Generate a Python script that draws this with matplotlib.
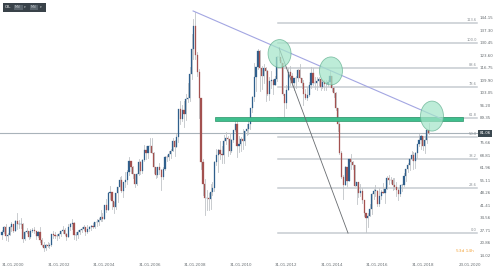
#!/usr/bin/env python3
# -*- coding: utf-8 -*-
"""Brent (OIL) monthly candles 2000-2018 with fib levels and trendline"""

import matplotlib
matplotlib.use('Agg')
import matplotlib.pyplot as plt
from matplotlib.patches import Ellipse, Rectangle
import numpy as np

# monthly closes / highs / lows, Jan 2000 .. Oct 2018
first_open = 25.5
closes = [
    27.1, 29.6, 24.9, 25.7, 29.6, 31.7, 27.9, 33.1, 31.3, 31.5, 31.6, 23.0,
    27.1, 27.4, 24.6, 27.8, 28.0, 27.6, 25.0, 27.0, 22.9, 20.1, 18.1, 20.0,
    19.5, 20.1, 25.9, 25.5, 25.1, 24.8, 25.8, 27.4, 28.3, 26.1, 24.5, 29.9,
    31.6, 32.1, 25.3, 25.5, 27.3, 28.4, 28.7, 29.6, 27.0, 29.0, 30.0, 30.2,
    30.0, 32.4, 32.5, 33.6, 35.1, 34.2, 42.0, 39.0, 48.4, 49.0, 43.9, 40.5,
    48.2, 51.5, 55.4, 49.7, 54.3, 55.6, 59.9, 66.2, 62.6, 59.0, 53.6, 58.9,
    65.4, 60.2, 66.6, 72.0, 70.2, 73.9, 74.4, 70.3, 62.5, 58.3, 62.8, 61.0,
    57.3, 61.6, 68.1, 67.9, 69.6, 71.4, 77.1, 73.6, 79.2, 94.2, 88.7, 93.9,
    91.8, 100.1, 100.3, 113.5, 127.4, 139.8, 123.9, 114.8, 100.6, 65.3, 53.5, 45.6,
    45.9, 44.9, 49.2, 50.9, 65.6, 69.3, 71.7, 69.8, 69.1, 77.0, 78.5, 77.9,
    71.2, 77.6, 82.7, 86.2, 74.0, 75.0, 78.0, 76.7, 82.3, 83.2, 85.9, 94.8,
    101.0, 111.8, 117.4, 125.9, 116.7, 112.5, 116.7, 114.9, 102.8, 109.6, 110.5, 107.4,
    110.9, 122.7, 122.9, 119.5, 102.4, 97.8, 105.0, 114.6, 112.4, 108.7, 111.2, 111.1,
    115.6, 111.4, 108.5, 102.4, 100.4, 102.2, 107.7, 114.0, 108.4, 108.8, 109.7, 110.8,
    106.4, 109.1, 107.8, 108.1, 109.4, 112.4, 106.0, 103.2, 94.7, 85.9, 70.2, 57.3,
    53.0, 62.6, 55.1, 66.8, 65.6, 63.6, 52.2, 54.2, 48.4, 49.6, 44.6, 37.3,
    34.7, 36.0, 39.6, 48.1, 49.7, 49.7, 42.5, 47.0, 49.1, 48.3, 50.5, 56.8,
    55.7, 55.6, 52.8, 51.7, 50.3, 47.9, 52.6, 52.9, 57.5, 61.4, 63.6, 66.9,
    69.1, 65.8, 70.3, 75.2, 77.6, 79.4, 74.3, 77.4, 82.7, 81.06,
]
highs = [
    28.0, 30.6, 31.5, 26.6, 30.4, 32.3, 31.2, 33.4, 37.4, 33.9, 34.5, 31.8,
    27.8, 29.5, 27.9, 28.6, 29.5, 29.9, 27.1, 27.8, 29.6, 23.7, 21.5, 20.4,
    21.5, 20.9, 26.0, 27.6, 27.1, 25.8, 26.5, 27.6, 30.3, 29.3, 26.4, 31.2,
    31.9, 34.3, 32.4, 26.9, 28.2, 28.5, 29.6, 30.9, 29.6, 30.9, 30.5, 30.8,
    31.9, 32.5, 34.4, 34.6, 39.0, 37.4, 42.0, 45.0, 49.0, 52.0, 49.0, 43.5,
    48.4, 51.7, 57.3, 57.7, 54.5, 60.0, 60.8, 68.0, 66.0, 63.0, 59.0, 59.5,
    66.8, 66.0, 66.9, 74.8, 74.3, 73.9, 78.3, 78.6, 70.6, 62.8, 62.9, 64.9,
    61.3, 62.4, 68.5, 69.0, 71.3, 72.6, 78.7, 77.2, 80.8, 93.8, 98.7, 96.6,
    98.5, 102.6, 108.6, 117.6, 135.6, 143.7, 147.5, 125.8, 116.2, 99.0, 67.0, 56.1,
    49.8, 48.5, 53.1, 54.6, 66.2, 72.4, 72.3, 76.7, 74.2, 80.3, 82.0, 79.7,
    81.4, 78.0, 82.7, 89.2, 88.0, 79.4, 78.9, 83.7, 82.4, 86.2, 89.4, 94.8,
    101.7, 119.8, 117.5, 127.0, 126.7, 118.0, 118.9, 117.2, 115.7, 111.8, 115.0, 110.8,
    112.3, 123.5, 128.4, 121.1, 119.7, 100.6, 107.4, 117.0, 117.9, 113.8, 111.6, 112.3,
    116.3, 119.2, 111.3, 110.5, 105.5, 106.5, 109.3, 117.3, 116.7, 112.0, 112.0, 112.0,
    110.6, 110.0, 110.1, 110.1, 110.5, 115.7, 112.3, 106.6, 103.5, 95.0, 87.4, 71.3,
    58.4, 63.0, 62.6, 67.1, 69.6, 66.1, 63.7, 54.2, 54.0, 53.1, 51.2, 44.2,
    37.4, 37.5, 42.5, 48.5, 50.5, 52.9, 50.3, 51.2, 49.9, 53.7, 50.8, 57.9,
    58.4, 57.4, 56.7, 56.7, 54.7, 50.9, 52.9, 53.3, 59.5, 61.7, 64.6, 67.1,
    71.3, 70.9, 71.0, 75.5, 80.5, 80.0, 79.4, 79.4, 82.9, 86.7,
]
lows = [
    23.3, 26.6, 22.5, 21.9, 25.5, 27.7, 26.9, 27.6, 28.5, 29.4, 29.2, 21.6,
    22.6, 26.3, 23.3, 23.9, 26.9, 26.6, 23.5, 24.1, 21.6, 19.6, 16.5, 17.3,
    18.8, 18.6, 19.5, 24.0, 24.0, 22.8, 23.6, 24.8, 26.3, 25.3, 22.5, 24.5,
    28.4, 29.0, 23.3, 22.9, 23.8, 25.8, 27.1, 28.0, 25.2, 26.7, 27.8, 28.1,
    29.1, 29.1, 30.6, 30.8, 33.2, 33.0, 34.0, 38.0, 39.0, 45.0, 39.5, 37.5,
    39.5, 43.4, 50.0, 49.0, 46.4, 51.8, 53.1, 58.5, 59.5, 56.5, 51.9, 52.8,
    58.4, 58.6, 59.2, 66.2, 67.0, 67.4, 71.0, 70.3, 59.3, 56.9, 57.2, 58.8,
    49.9, 56.3, 60.9, 65.9, 66.6, 67.5, 71.3, 68.5, 73.6, 76.4, 86.2, 87.7,
    84.7, 88.5, 98.0, 98.7, 111.0, 121.7, 121.9, 112.5, 89.2, 61.3, 47.5, 36.2,
    39.4, 39.4, 39.9, 47.4, 49.6, 64.0, 59.9, 67.2, 64.7, 64.9, 75.1, 68.6,
    70.0, 70.9, 76.1, 82.4, 68.0, 71.1, 71.3, 72.3, 74.9, 80.0, 80.7, 83.5,
    92.9, 98.9, 104.0, 116.0, 104.0, 105.2, 108.8, 98.7, 102.2, 99.1, 105.9, 102.4,
    107.7, 109.8, 121.1, 117.1, 101.9, 88.5, 94.9, 104.7, 107.6, 107.1, 105.0, 105.6,
    109.9, 111.3, 105.6, 96.8, 100.1, 99.2, 101.6, 106.1, 107.3, 105.5, 104.6, 107.6,
    104.5, 106.0, 104.6, 104.9, 106.8, 108.8, 104.3, 101.1, 93.9, 82.6, 69.8, 56.5,
    45.2, 52.7, 52.5, 55.2, 61.6, 61.5, 52.1, 42.2, 46.2, 46.7, 42.8, 36.1,
    27.1, 30.0, 35.7, 36.8, 45.0, 46.6, 41.5, 41.5, 45.0, 48.3, 43.2, 50.7,
    53.6, 54.1, 50.3, 50.6, 46.6, 44.4, 46.6, 49.7, 52.5, 55.0, 60.0, 61.2,
    66.6, 61.8, 62.1, 67.5, 74.3, 72.7, 71.9, 70.3, 76.0, 80.8,
]

price_ticks = [144.15, 137.30, 130.45, 123.60, 116.75, 109.90, 103.05, 96.20,
               89.35, 75.66, 68.81, 61.96, 55.11, 48.26, 41.41, 34.56, 27.71,
               20.86, 14.02]
date_years = [2000, 2002, 2004, 2006, 2008, 2010, 2012, 2014, 2016, 2018]
date_labels = ['31.01.%d' % y for y in date_years]

fib_labels = ['113.6', '100.0', '88.6', '78.6', '61.8', '50.0', '38.2', '23.6', '0.0']
fib_prices = [141.6, 130.3, 116.8, 106.4, 89.4, 79.0, 67.0, 51.1, 26.5]

last_price = 81.06
zone_price = 88.9

# x in years since Jan 2000
n = len(closes)
t = np.arange(n) / 12.0
opens = [first_open] + closes[:-1]

fig = plt.figure(figsize=(5.0, 2.67), dpi=100)
ax = fig.add_axes([0, 0, 1, 1])
ax.set_xlim(-0.088, 21.89)
ax.set_ylim(7.95, 154.0)
ax.axis('off')

# candles
for i in range(n):
    o, c = opens[i], closes[i]
    ax.plot([t[i], t[i]], [lows[i], highs[i]], color='#c0c4c8', lw=0.6, zorder=2)
    col = '#2f5f8c' if c >= o else '#a3514f'
    ax.bar(t[i], abs(c - o) or 0.3, bottom=min(o, c), width=0.052,
           color=col, edgecolor=col, linewidth=0.2, zorder=3)

# fibonacci levels
for lab, p in zip(fib_labels, fib_prices):
    ax.plot([12.13, 20.86], [p, p], color='#c6ccd1', lw=1.1, zorder=1)
    ax.text(20.88, p + 0.6, lab, fontsize=2.6, color='#8a9095',
            ha='right', va='bottom')

# current price line
ax.plot([-0.1, 20.95], [last_price, last_price], color='#a9b3ba', lw=0.8, zorder=1)

# green zone
ax.add_patch(Rectangle((9.36, zone_price - 1.1), 10.9, 2.2, facecolor='#3fbf8e',
                       edgecolor='#2b9468', lw=0.5, zorder=4))

# lines
ax.plot([8.40, 19.34], [148.0, 88.9], color='#a3a6e2', lw=0.8, zorder=5)
ax.plot([12.18, 15.21], [127.7, 26.5], color='#686c70', lw=0.6, zorder=5)

# circles
for cx, cy, h in [(12.2, 124.7, 15.3), (14.46, 115.2, 15.3), (18.9, 90.5, 16.4)]:
    ax.add_patch(Ellipse((cx, cy), 1.01, h, facecolor='#a4e5c9', alpha=0.72,
                         edgecolor='#5fae8e', lw=0.6, zorder=6))

# price axis
for p in price_ticks:
    ax.text(21.0, p, '%.2f' % p, fontsize=2.9, color='#666c70', ha='left', va='center')
ax.text(21.0, last_price, '81.06', fontsize=2.9, color='white', ha='left', va='center',
        zorder=8, bbox=dict(boxstyle='square,pad=0.35', fc='#3b4850', ec='none'))

# date axis
for y, lab in zip(date_years, date_labels):
    ax.text(y - 2000, 9.1, lab, fontsize=2.9, color='#666c70', ha='left', va='center')
ax.text(20.06, 9.1, '23.01.2020', fontsize=2.9, color='#666c70', ha='left', va='center')
ax.text(19.95, 16.7, '53d 14h', fontsize=3.1, color='#f3a640', ha='left', va='center')

# toolbar top-left
fig.add_artist(Rectangle((3 / 500, 1 - 12 / 267), 43 / 500, 9 / 267,
                         transform=fig.transFigure, fc='#394249', ec='none'))
fig.add_artist(Rectangle((14 / 500, 1 - 10 / 267), 9 / 500, 5 / 267,
                         transform=fig.transFigure, fc='#5a646c', ec='none'))
fig.add_artist(Rectangle((30 / 500, 1 - 10 / 267), 8 / 500, 5 / 267,
                         transform=fig.transFigure, fc='#5a646c', ec='none'))
fig.text(5 / 500, 1 - 7.5 / 267, 'OIL', fontsize=2.8, color='white', va='center')
fig.text(15 / 500, 1 - 7.5 / 267, 'MN', fontsize=2.4, color='#d0d4d8', va='center')
fig.text(24 / 500, 1 - 7.5 / 267, '▾', fontsize=2.4, color='#d0d4d8', va='center')
fig.text(31 / 500, 1 - 7.5 / 267, 'MN', fontsize=2.4, color='#d0d4d8', va='center')
fig.text(40 / 500, 1 - 7.5 / 267, '▾', fontsize=2.4, color='#d0d4d8', va='center')

fig.savefig('out.png', dpi=100)
